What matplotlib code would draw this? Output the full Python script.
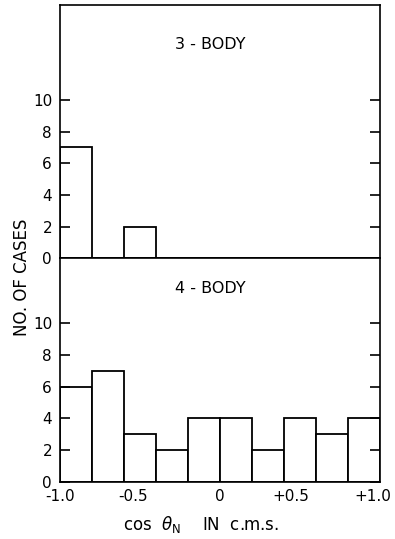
import matplotlib.pyplot as plt
import matplotlib.transforms as mtransforms
import numpy as np

# histogram bins of cos(theta_N), width 0.2
bin_edges = np.round(np.arange(-1.0, 1.01, 0.2), 2)
three_body = [7, 0, 2, 0, 0, 0, 0, 0, 0, 0]
four_body = [6, 7, 3, 2, 4, 4, 2, 4, 3, 4]
y_ticks = [0, 2, 4, 6, 8, 10]
x_ticks = [-1.0, -0.5, 0, 0.5, 1.0]
x_labels = ['-1.0', '-0.5', '0', '+0.5', '+1.0']

plt.rcParams['font.family'] = 'DejaVu Sans'
fig = plt.figure(figsize=(3.95, 5.39), dpi=100)
ax1 = fig.add_axes([0.153, 0.521, 0.809, 0.470])
ax2 = fig.add_axes([0.153, 0.106, 0.809, 0.415], sharex=ax1)

lefts = bin_edges[:-1]
for ax, counts, top, name, ty in [(ax1, three_body, 16, '3 - BODY', 13.5),
                                  (ax2, four_body, 14.1, '4 - BODY', 12.2)]:
    ax.bar(lefts, counts, width=0.2, align='edge', facecolor='white',
           edgecolor='black', linewidth=1.3)
    ax.set_xlim(-1.0, 1.0)
    ax.set_ylim(0, top)
    ax.set_yticks(y_ticks)
    ax.tick_params(axis='y', direction='in', length=7, width=1.2,
                   right=True, labelsize=11, pad=6)
    ax.tick_params(axis='x', length=0)
    for s in ax.spines.values():
        s.set_linewidth(1.2)
    ax.text(-0.06, ty, name, ha='center', va='center', fontsize=11.5)

ax1.tick_params(axis='x', labelbottom=False)
ax2.set_xticks(x_ticks)
ax2.set_xticklabels(x_labels, fontsize=11)
ax2.tick_params(axis='x', pad=5)
# hand lettering sits a little left of the tick positions
shifts = [0, -7, 0, -9, -7]
for lab, dx in zip(ax2.get_xticklabels(), shifts):
    lab.set_transform(lab.get_transform() +
                      mtransforms.ScaledTranslation(dx / 100, 0, fig.dpi_scale_trans))

fig.text(0.055, 0.485, 'NO. OF CASES', rotation=90, ha='center',
         va='center', fontsize=12)
fig.text(0.51, 0.026, r'cos  $\theta_\mathregular{N}$    IN  c.m.s.',
         ha='center', va='center', fontsize=12)

fig.savefig('out.png', dpi=100)
